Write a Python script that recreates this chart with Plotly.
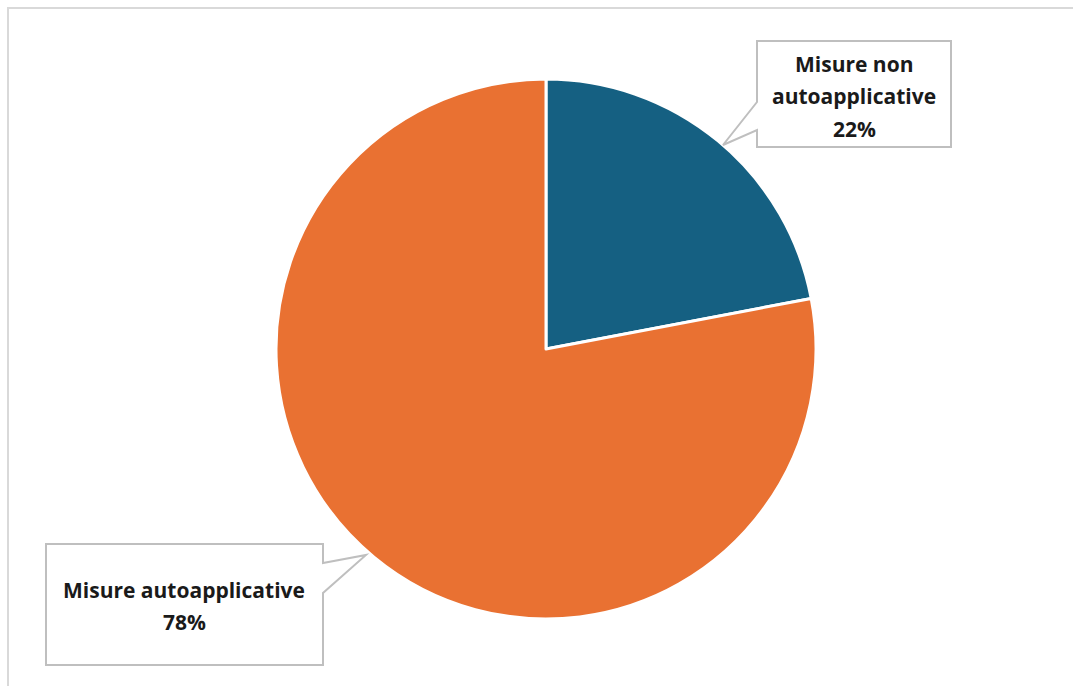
import plotly.graph_objects as go

labels = ["Misure non autoapplicative", "Misure autoapplicative"]
values = [22, 78]
colors = ["#156082", "#E97132"]
label_lines = [["Misure non", "autoapplicative"], ["Misure autoapplicative"]]

W, H = 1073, 686


def px(x):
    return x / W


def py(y):
    return 1 - y / H


fig = go.Figure()
cx, cy, r = 546, 349, 270
fig.add_trace(go.Pie(
    labels=labels, values=values, sort=False, direction="clockwise", rotation=0,
    marker=dict(colors=colors, line=dict(color="white", width=3)),
    textinfo="none", hoverinfo="label+percent", showlegend=False,
    domain=dict(x=[px(cx - r), px(cx + r)], y=[py(cy + r), py(cy - r)]),
))

shapes = []
# outer frame
shapes.append(dict(type="rect", xref="paper", yref="paper",
                   x0=px(8), x1=px(1090), y0=py(8), y1=py(700),
                   line=dict(color="#d9d9d9", width=2), fillcolor="rgba(0,0,0,0)", layer="below"))


def path(points):
    s = "M " + " L ".join(f"{px(x):.5f},{py(y):.5f}" for x, y in points) + " Z"
    return s


# callout top (22%)
top_pts = [(757, 41), (951, 41), (951, 147), (757, 147), (757, 130), (723, 145), (757, 102)]
# callout bottom (78%)
bot_pts = [(46, 544), (323, 544), (323, 563), (366, 555), (323, 593), (323, 665), (46, 665)]
for pts in (top_pts, bot_pts):
    shapes.append(dict(type="path", xref="paper", yref="paper", path=path(pts),
                       line=dict(color="#bfbfbf", width=2), fillcolor="white", layer="above"))

annotations = []
font = dict(family="Open Sans", size=21, color="#1a1a1a")
# top callout text
tops = label_lines[0] + [f"{values[0]}%"]
for i, t in enumerate(tops):
    annotations.append(dict(x=px(854), y=py(64 + 32.5 * i), xref="paper", yref="paper",
                            text=f"<b>{t}</b>", showarrow=False, font=font,
                            xanchor="center", yanchor="middle"))
bots = label_lines[1] + [f"{values[1]}%"]
for i, t in enumerate(bots):
    annotations.append(dict(x=px(184), y=py(590 + 31.5 * i), xref="paper", yref="paper",
                            text=f"<b>{t}</b>", showarrow=False, font=font,
                            xanchor="center", yanchor="middle"))

fig.update_layout(width=W, height=H, margin=dict(l=0, r=0, t=0, b=0),
                  paper_bgcolor="white", plot_bgcolor="white",
                  shapes=shapes, annotations=annotations)
fig.write_html("out.html")
